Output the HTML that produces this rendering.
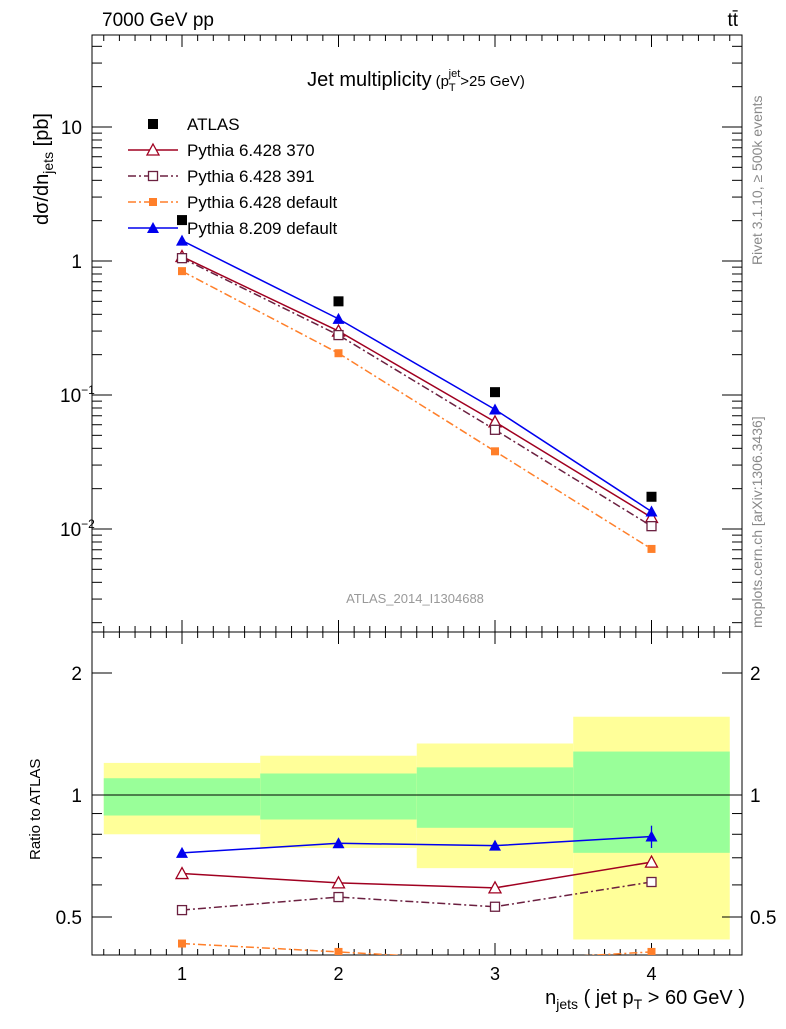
<!DOCTYPE html>
<html><head><meta charset="utf-8"><style>
body{margin:0;background:#fff;}
svg{font-family:"Liberation Sans",sans-serif;}
</style></head><body>
<svg id="c" width="786" height="1024" viewBox="0 0 786 1024" xmlns="http://www.w3.org/2000/svg">
<text x="102" y="26" font-size="19">7000 GeV pp</text>
<text x="738" y="26" font-size="19" text-anchor="end">tt̄</text>
<text x="416" y="86" font-size="20" text-anchor="middle">Jet multiplicity<tspan font-size="15" dx="4">(p</tspan><tspan font-size="11" dy="5">T</tspan><tspan font-size="11" dy="-14" dx="-7">jet</tspan><tspan font-size="15" dy="9">&gt;25 GeV)</tspan></text>
<text x="415" y="603" font-size="13" fill="#999" text-anchor="middle">ATLAS_2014_I1304688</text>
<text transform="translate(762,265) rotate(-90)" font-size="14" fill="#888">Rivet 3.1.10, ≥ 500k events</text>
<text transform="translate(762,628) rotate(-90)" font-size="14" fill="#888">mcplots.cern.ch [arXiv:1306.3436]</text>
<text transform="translate(48,225) rotate(-90)" font-size="20">dσ/dn<tspan font-size="14" dy="5">jets</tspan><tspan dy="-5"> [pb]</tspan></text>
<text transform="translate(40,860) rotate(-90)" font-size="15">Ratio to ATLAS</text>
<text x="745" y="1004" font-size="20" text-anchor="end">n<tspan font-size="14" dy="5">jets</tspan><tspan dy="-5"> ( jet p</tspan><tspan font-size="14" dy="5">T</tspan><tspan dy="-5"> &gt; 60 GeV )</tspan></text>
<g id="g"></g>
</svg>
<script>
const nj=[1,2,3,4];
const atlas=[2.02,0.50,0.105,0.0174];
const p370=[1.08,0.30,0.063,0.0122];
const p391=[1.05,0.28,0.055,0.0105];
const pdef=[0.84,0.205,0.038,0.0071];
const p8=[1.42,0.37,0.078,0.0135];
const r370=[0.64,0.607,0.59,0.683];
const r391=[0.52,0.56,0.53,0.61];
const rdef=[0.43,0.41,0.39,0.41];
const r8=[0.72,0.76,0.75,0.79];
const r8err=[0.005,0.01,0.02,0.05];
const yelHi=[1.2,1.25,1.34,1.56];
const yelLo=[0.80,0.74,0.66,0.44];
const grnHi=[1.10,1.13,1.17,1.28];
const grnLo=[0.89,0.87,0.83,0.72];
const xTicks=[1,2,3,4];
const NS="http://www.w3.org/2000/svg";
const g=document.getElementById('g');
const L=92,R=742,T=35,M=632,B=955;
const X=v=>182+(v-1)*156.5;
const Y=v=>261-Math.log10(v)*134;
const YR=v=>795-Math.log2(v)*122;
function el(t,a,p){const e=document.createElementNS(NS,t);for(const k in a)e.setAttribute(k,a[k]);(p||g).appendChild(e);return e;}
for(let i=0;i<nj.length;i++){
 const x0=X(nj[i]-0.5),x1=X(nj[i]+0.5);
 const yb=el('rect',{x:x0,y:YR(yelHi[i]),width:x1-x0,height:YR(yelLo[i])-YR(yelHi[i]),fill:'#ffff99'});
 
 
 const gb=el('rect',{x:x0,y:YR(grnHi[i]),width:x1-x0,height:YR(grnLo[i])-YR(grnHi[i]),fill:'#99ff99'});
 
 
}
el('line',{x1:L,x2:R,y1:YR(1),y2:YR(1),stroke:'#000'});
el('rect',{x:L,y:T,width:R-L,height:M-T,fill:'none',stroke:'#000'});
el('rect',{x:L,y:M,width:R-L,height:B-M,fill:'none',stroke:'#000'});
for(let v=0.5;v<=4.51;v+=0.1){const x=X(v);if(x<L||x>R)continue;const maj=Math.abs(v-Math.round(v))<0.01;const l=maj?12:6;
 [[M,-1],[T,1],[B,-1],[M,1]].forEach(([y,d])=>el('line',{x1:x,x2:x,y1:y,y2:y+d*l,stroke:'#000'}));}
xTicks.forEach(v=>{const t=el('text',{x:X(v),y:980,'font-size':18,'text-anchor':'middle'});t.textContent=v;
 
 });
for(let d=-3;d<=1;d++)for(let k=1;k<10;k++){const v=k*Math.pow(10,d);const y=Y(v);if(y<T||y>M)continue;const l=k==1?20:10;
 el('line',{x1:L,x2:L+l,y1:y,y2:y,stroke:'#000'});el('line',{x1:R,x2:R-l,y1:y,y2:y,stroke:'#000'});}
[[10,'10'],[1,'1'],[0.1,'10<tspan font-size="12" dy="-8">−1</tspan>'],[0.01,'10<tspan font-size="12" dy="-8">−2</tspan>']].forEach(([v,s])=>{
 const t=el('text',{x:v>=1?82:60,y:Y(v)+7,'font-size':19,'text-anchor':v>=1?'end':'start'});t.innerHTML=s;
 
 });
[0.5,0.6,0.7,0.8,0.9,1,2].forEach(v=>{const y=YR(v);const l=(v==1||v==2||v==0.5)?20:10;
 el('line',{x1:L,x2:L+l,y1:y,y2:y,stroke:'#000'});el('line',{x1:R,x2:R-l,y1:y,y2:y,stroke:'#000'});});
[0.5,1,2].forEach(v=>{[[82,'end'],[750,'start']].forEach(([x,a])=>{const t=el('text',{x:x,y:YR(v)+7,'font-size':19,'text-anchor':a});t.textContent=v;
 
 });});
function marker(type,x,y,col){
 if(type=='sq')return el('rect',{x:x-5,y:y-5,width:10,height:10,fill:col});
 if(type=='osq')return el('rect',{x:x-4.5,y:y-4.5,width:9,height:9,fill:'#fff',stroke:col,'stroke-width':1.3});
 if(type=='ssq')return el('rect',{x:x-4,y:y-4,width:8,height:8,fill:col});
 if(type=='otri')return el('path',{d:`M${x} ${y-6}L${x+6} ${y+5}L${x-6} ${y+5}Z`,fill:'#fff',stroke:col,'stroke-width':1.3});
 if(type=='tri')return el('path',{d:`M${x} ${y-6}L${x+6} ${y+5}L${x-6} ${y+5}Z`,fill:col});
}
const series=[
 {n:'pythia-6428-370',v:p370,r:r370,c:'#a00020',d:'',m:'otri'},
 {n:'pythia-6428-391',v:p391,r:r391,c:'#6b2040',d:'8,3,2,3',m:'osq'},
 {n:'pythia-6428-default',v:pdef,r:rdef,c:'#ff7f2a',d:'8,3,2,3',m:'ssq'},
 {n:'pythia-8209-default',v:p8,r:r8,c:'#0000ee',d:'',m:'tri'}];
const clip=el('clipPath',{id:'cr'});el('rect',{x:L,y:M,width:R-L,height:B-M},clip);
series.forEach(s=>{
 const pl=el('polyline',{points:nj.map((n,i)=>X(n)+','+Y(s.v[i])).join(' '),fill:'none',stroke:s.c,'stroke-width':1.5,'stroke-dasharray':s.d});
 
 
 nj.forEach((n,i)=>{const m=marker(s.m,X(n),Y(s.v[i]),s.c);
  
  });
 const gr=el('g',{'clip-path':'url(#cr)'});
 const rl=el('polyline',{points:nj.map((n,i)=>X(n)+','+YR(s.r[i])).join(' '),fill:'none',stroke:s.c,'stroke-width':1.5,'stroke-dasharray':s.d},gr);
 
 
 nj.forEach((n,i)=>{const m=marker(s.m,X(n),YR(s.r[i]),s.c);gr.appendChild(m);
  
  });
});
nj.forEach((n,i)=>{el('line',{x1:X(n),x2:X(n),y1:YR(r8[i]+r8err[i]),y2:YR(r8[i]-r8err[i]),stroke:'#0000ee','stroke-width':1.3});});
nj.forEach((n,i)=>{const m=marker('sq',X(n),Y(atlas[i]),'#000');
 
 });
const leg=[['ATLAS','#000','','sq',true],['Pythia 6.428 370','#a00020','','otri'],['Pythia 6.428 391','#6b2040','8,3,2,3','osq'],['Pythia 6.428 default','#ff7f2a','8,3,2,3','ssq'],['Pythia 8.209 default','#0000ee','','tri']];
leg.forEach((e,i)=>{const y=124+i*26;
 if(!e[4])el('line',{x1:128,x2:178,y1:y,y2:y,stroke:e[1],'stroke-width':1.5,'stroke-dasharray':e[2]});
 marker(e[3],153,y,e[1]);
 const t=el('text',{x:187,y:y+6,'font-size':17});t.textContent=e[0];
 
 });
</script>
</body></html>
